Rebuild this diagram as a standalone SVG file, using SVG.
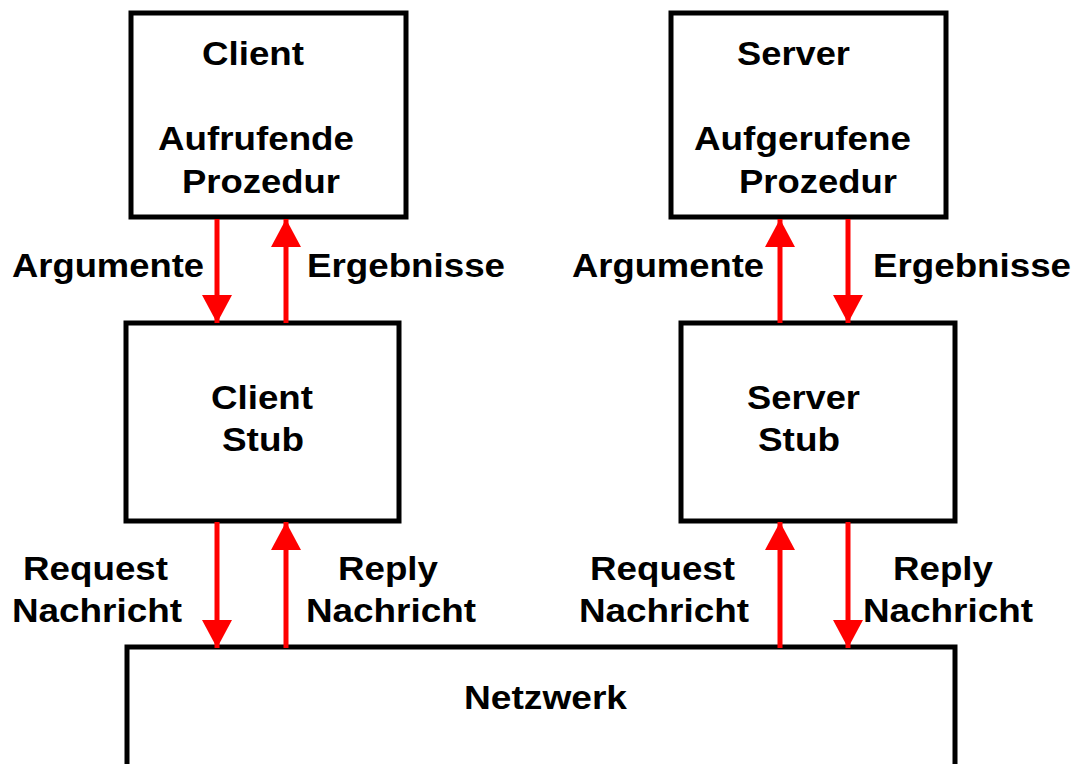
<svg xmlns="http://www.w3.org/2000/svg" width="1075" height="764" viewBox="0 0 1075 764">
  <style>
    .box { fill: #fff; stroke: #000; stroke-width: 5; }
    .lbl { font-family: "Liberation Sans", Arial, sans-serif; font-weight: bold; font-size: 33px; fill: #000; }
    .flow { stroke: #f00; stroke-width: 5; fill: none; }
  </style>
  <defs>
    <marker id="head" markerUnits="userSpaceOnUse" markerWidth="30" markerHeight="30" refX="28" refY="15" orient="auto">
      <path d="M0,0 L28,15 L0,30 Z" fill="#f00"/>
    </marker>
  </defs>
  <rect width="1075" height="764" fill="#fff"/>

  <g id="client">
    <rect class="box" x="131" y="13" width="275" height="204"/>
    <text class="lbl" x="202" y="65" textLength="102" lengthAdjust="spacingAndGlyphs">Client</text>
    <text class="lbl" x="158" y="150" textLength="196" lengthAdjust="spacingAndGlyphs">Aufrufende</text>
    <text class="lbl" x="182" y="193" textLength="158" lengthAdjust="spacingAndGlyphs">Prozedur</text>
  </g>
  <g id="server">
    <rect class="box" x="671" y="13" width="275" height="204"/>
    <text class="lbl" x="737" y="65" textLength="113" lengthAdjust="spacingAndGlyphs">Server</text>
    <text class="lbl" x="694" y="150" textLength="217" lengthAdjust="spacingAndGlyphs">Aufgerufene</text>
    <text class="lbl" x="739" y="193" textLength="158" lengthAdjust="spacingAndGlyphs">Prozedur</text>
  </g>
  <g id="client-stub">
    <rect class="box" x="126" y="323" width="273" height="198"/>
    <text class="lbl" x="211" y="409" textLength="102" lengthAdjust="spacingAndGlyphs">Client</text>
    <text class="lbl" x="222" y="451" textLength="82" lengthAdjust="spacingAndGlyphs">Stub</text>
  </g>
  <g id="server-stub">
    <rect class="box" x="681" y="323" width="274" height="198"/>
    <text class="lbl" x="747" y="409" textLength="113" lengthAdjust="spacingAndGlyphs">Server</text>
    <text class="lbl" x="758" y="451" textLength="82" lengthAdjust="spacingAndGlyphs">Stub</text>
  </g>
  <g id="netzwerk">
    <rect class="box" x="127" y="647" width="828" height="140"/>
    <text class="lbl" x="464" y="709" textLength="163" lengthAdjust="spacingAndGlyphs">Netzwerk</text>
  </g>

  <g id="connectors">
    <line class="flow" x1="217" y1="219" x2="217" y2="323" marker-end="url(#head)"/>
    <line class="flow" x1="286" y1="323" x2="286" y2="219" marker-end="url(#head)"/>
    <line class="flow" x1="780" y1="323" x2="780" y2="219" marker-end="url(#head)"/>
    <line class="flow" x1="848" y1="219" x2="848" y2="323" marker-end="url(#head)"/>
    <line class="flow" x1="217" y1="522" x2="217" y2="648" marker-end="url(#head)"/>
    <line class="flow" x1="286" y1="648" x2="286" y2="522" marker-end="url(#head)"/>
    <line class="flow" x1="780" y1="648" x2="780" y2="522" marker-end="url(#head)"/>
    <line class="flow" x1="848" y1="522" x2="848" y2="648" marker-end="url(#head)"/>
    <text class="lbl" x="12" y="277" textLength="192" lengthAdjust="spacingAndGlyphs">Argumente</text>
    <text class="lbl" x="307" y="277" textLength="198" lengthAdjust="spacingAndGlyphs">Ergebnisse</text>
    <text class="lbl" x="572" y="277" textLength="192" lengthAdjust="spacingAndGlyphs">Argumente</text>
    <text class="lbl" x="873" y="277" textLength="198" lengthAdjust="spacingAndGlyphs">Ergebnisse</text>
    <text class="lbl" x="23" y="580" textLength="145" lengthAdjust="spacingAndGlyphs">Request</text>
    <text class="lbl" x="12" y="622" textLength="170" lengthAdjust="spacingAndGlyphs">Nachricht</text>
    <text class="lbl" x="338" y="580" textLength="100" lengthAdjust="spacingAndGlyphs">Reply</text>
    <text class="lbl" x="306" y="622" textLength="170" lengthAdjust="spacingAndGlyphs">Nachricht</text>
    <text class="lbl" x="590" y="580" textLength="145" lengthAdjust="spacingAndGlyphs">Request</text>
    <text class="lbl" x="579" y="622" textLength="170" lengthAdjust="spacingAndGlyphs">Nachricht</text>
    <text class="lbl" x="893" y="580" textLength="100" lengthAdjust="spacingAndGlyphs">Reply</text>
    <text class="lbl" x="863" y="622" textLength="170" lengthAdjust="spacingAndGlyphs">Nachricht</text>
  </g>
</svg>
